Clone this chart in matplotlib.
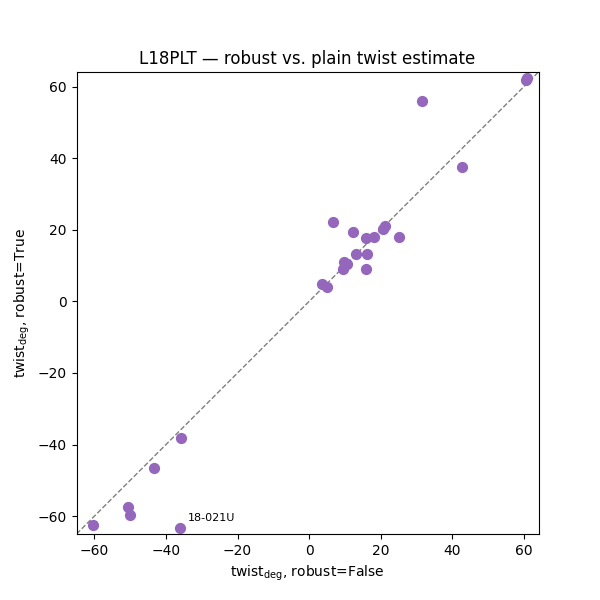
import numpy as np
import matplotlib
matplotlib.use("Agg")
import matplotlib.pyplot as plt

# ── Data: twist estimates (deg), plain vs. robust ──
twist_plain = [
    60.5, 60.9, 31.6, 42.8,
    6.7, 12.2, 21.3, 20.6, 25.2, 16.0, 18.0,
    13.0, 16.1, 9.7, 10.6, 9.5, 16.0, 3.7, 5.1,
    -35.8, -43.4, -50.6, -50.1, -60.5, -36.2,
]
twist_robust = [
    61.8, 62.3, 56.1, 37.6,
    22.2, 19.3, 21.1, 20.2, 17.9, 17.6, 17.9,
    13.2, 13.2, 11.0, 10.5, 9.0, 9.0, 4.8, 4.0,
    -38.2, -46.6, -57.5, -59.8, -62.4, -63.4,
]
outlier_label = "18-021U"
outlier_idx = 24

lims = (-65.0, 64.1)

fig, ax = plt.subplots(figsize=(6, 6), dpi=100)
ax.scatter(twist_plain, twist_robust, s=50, color="tab:purple", zorder=3)
ax.plot(lims, lims, ls="--", color="gray", lw=1, zorder=2)
ax.annotate(outlier_label,
            (twist_plain[outlier_idx], twist_robust[outlier_idx]),
            xytext=(6, 5), textcoords="offset points", fontsize=8)

ax.set_xlim(lims)
ax.set_ylim(lims)
ax.set_aspect("equal")
ax.set_xlabel(r"twist$_\mathrm{deg}$, robust=False")
ax.set_ylabel(r"twist$_\mathrm{deg}$, robust=True")
ax.set_title("L18PLT — robust vs. plain twist estimate")

fig.savefig("out.png", dpi=100)
plt.close()
